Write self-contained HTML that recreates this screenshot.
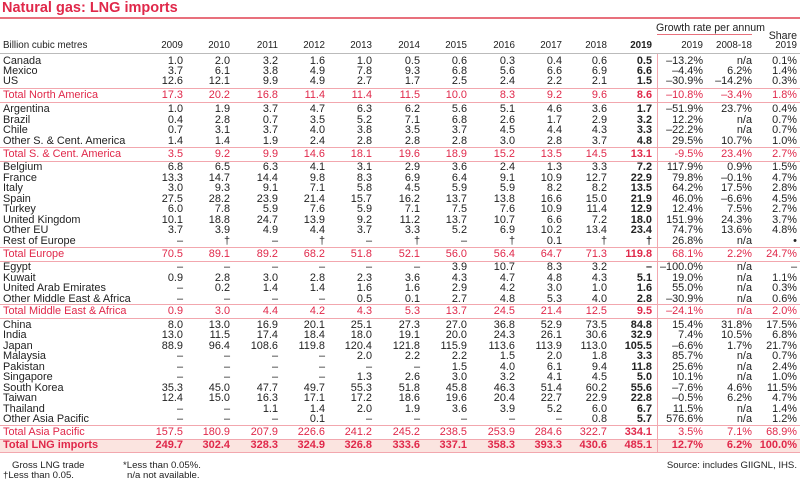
<!DOCTYPE html>
<html><head><meta charset="utf-8"><style>
body{margin:0;width:800px;height:481px;background:#fff;position:relative;overflow:hidden;font-family:"Liberation Sans",Arial,sans-serif;color:#222;}
.t{position:absolute;left:2px;top:0;font-size:14.5px;font-weight:bold;color:#e0284a;}
.r{position:absolute;left:0;height:12px;line-height:12px;font-size:10.9px;white-space:nowrap;display:flex;}
.r span{display:inline-block;text-align:right;}
.r span:nth-child(1){width:137px;margin-left:3px;text-align:left;}
.r span:nth-child(2){width:43px}.r span:nth-child(3){width:47px}.r span:nth-child(4){width:48px}
.r span:nth-child(5){width:47px}.r span:nth-child(6){width:47px}.r span:nth-child(7){width:48px}
.r span:nth-child(8){width:47px}.r span:nth-child(9){width:48px}.r span:nth-child(10){width:47px}
.r span:nth-child(11){width:45px}.r span:nth-child(12){width:45px;font-weight:bold}.r span:nth-child(13){width:51px}
.r span:nth-child(14){width:49px}.r span:nth-child(15){width:45px}
.tot{color:#e0284a;}
.big{font-weight:bold;}
.ln{position:absolute;left:0;width:800px;height:1px;background:#f2a7ae;}
.txt{position:absolute;font-size:10px;white-space:nowrap;}
</style></head><body>
<div class="t">Natural gas: LNG imports</div>
<div style="position:absolute;left:0;top:17px;width:800px;height:2px;background:#e8707c"></div>
<div class="txt" style="left:656px;top:22px;width:100px;text-align:center;font-size:10.6px">Growth rate per annum</div>
<div style="position:absolute;left:657px;top:34px;width:95px;height:1px;background:#e8707c"></div>
<div class="txt" style="right:3px;top:30px;font-size:10.6px">Share</div>
<div style="position:absolute;left:0;top:440px;width:800px;height:12px;background:#fbe4e0"></div>
<div style="position:absolute;left:657px;top:53px;width:1px;height:399px;background:#f2a7ae"></div>
<div style="position:absolute;left:0;top:53px;width:800px;height:1px;background:#bbb"></div>
<div class="ln" style="top:88px"></div><div class="ln" style="top:102px"></div>
<div class="ln" style="top:147px"></div><div class="ln" style="top:161px"></div>
<div class="ln" style="top:247px"></div><div class="ln" style="top:261px"></div>
<div class="ln" style="top:304px"></div><div class="ln" style="top:318px"></div>
<div class="ln" style="top:425px"></div><div class="ln" style="top:439px"></div>
<div class="ln" style="top:452px"></div>

<div class="r" style="top:40px;font-size:9.8px"><span>Billion cubic metres</span><span>2009</span><span>2010</span><span>2011</span><span>2012</span><span>2013</span><span>2014</span><span>2015</span><span>2016</span><span>2017</span><span>2018</span><span>2019</span><span>2019</span><span>2008-18</span><span>2019</span></div>

<div class="r" style="top:55px"><span>Canada</span><span>1.0</span><span>2.0</span><span>3.2</span><span>1.6</span><span>1.0</span><span>0.5</span><span>0.6</span><span>0.3</span><span>0.4</span><span>0.6</span><span>0.5</span><span>–13.2%</span><span>n/a</span><span>0.1%</span></div>
<div class="r" style="top:65px"><span>Mexico</span><span>3.7</span><span>6.1</span><span>3.8</span><span>4.9</span><span>7.8</span><span>9.3</span><span>6.8</span><span>5.6</span><span>6.6</span><span>6.9</span><span>6.6</span><span>–4.4%</span><span>6.2%</span><span>1.4%</span></div>
<div class="r" style="top:75px"><span>US</span><span>12.6</span><span>12.1</span><span>9.9</span><span>4.9</span><span>2.7</span><span>1.7</span><span>2.5</span><span>2.4</span><span>2.2</span><span>2.1</span><span>1.5</span><span>–30.9%</span><span>–14.2%</span><span>0.3%</span></div>
<div class="r tot" style="top:89px"><span>Total North America</span><span>17.3</span><span>20.2</span><span>16.8</span><span>11.4</span><span>11.4</span><span>11.5</span><span>10.0</span><span>8.3</span><span>9.2</span><span>9.6</span><span>8.6</span><span>–10.8%</span><span>–3.4%</span><span>1.8%</span></div>

<div class="r" style="top:103px"><span>Argentina</span><span>1.0</span><span>1.9</span><span>3.7</span><span>4.7</span><span>6.3</span><span>6.2</span><span>5.6</span><span>5.1</span><span>4.6</span><span>3.6</span><span>1.7</span><span>–51.9%</span><span>23.7%</span><span>0.4%</span></div>
<div class="r" style="top:114px"><span>Brazil</span><span>0.4</span><span>2.8</span><span>0.7</span><span>3.5</span><span>5.2</span><span>7.1</span><span>6.8</span><span>2.6</span><span>1.7</span><span>2.9</span><span>3.2</span><span>12.2%</span><span>n/a</span><span>0.7%</span></div>
<div class="r" style="top:124px"><span>Chile</span><span>0.7</span><span>3.1</span><span>3.7</span><span>4.0</span><span>3.8</span><span>3.5</span><span>3.7</span><span>4.5</span><span>4.4</span><span>4.3</span><span>3.3</span><span>–22.2%</span><span>n/a</span><span>0.7%</span></div>
<div class="r" style="top:135px"><span>Other S. &amp; Cent. America</span><span>1.4</span><span>1.4</span><span>1.9</span><span>2.4</span><span>2.8</span><span>2.8</span><span>2.8</span><span>3.0</span><span>2.8</span><span>3.7</span><span>4.8</span><span>29.5%</span><span>10.7%</span><span>1.0%</span></div>
<div class="r tot" style="top:148px"><span>Total S. &amp; Cent. America</span><span>3.5</span><span>9.2</span><span>9.9</span><span>14.6</span><span>18.1</span><span>19.6</span><span>18.9</span><span>15.2</span><span>13.5</span><span>14.5</span><span>13.1</span><span>-9.5%</span><span>23.4%</span><span>2.7%</span></div>

<div class="r" style="top:161px"><span>Belgium</span><span>6.8</span><span>6.5</span><span>6.3</span><span>4.1</span><span>3.1</span><span>2.9</span><span>3.6</span><span>2.4</span><span>1.3</span><span>3.3</span><span>7.2</span><span>117.9%</span><span>0.9%</span><span>1.5%</span></div>
<div class="r" style="top:172px"><span>France</span><span>13.3</span><span>14.7</span><span>14.4</span><span>9.8</span><span>8.3</span><span>6.9</span><span>6.4</span><span>9.1</span><span>10.9</span><span>12.7</span><span>22.9</span><span>79.8%</span><span>–0.1%</span><span>4.7%</span></div>
<div class="r" style="top:182px"><span>Italy</span><span>3.0</span><span>9.3</span><span>9.1</span><span>7.1</span><span>5.8</span><span>4.5</span><span>5.9</span><span>5.9</span><span>8.2</span><span>8.2</span><span>13.5</span><span>64.2%</span><span>17.5%</span><span>2.8%</span></div>
<div class="r" style="top:193px"><span>Spain</span><span>27.5</span><span>28.2</span><span>23.9</span><span>21.4</span><span>15.7</span><span>16.2</span><span>13.7</span><span>13.8</span><span>16.6</span><span>15.0</span><span>21.9</span><span>46.0%</span><span>–6.6%</span><span>4.5%</span></div>
<div class="r" style="top:203px"><span>Turkey</span><span>6.0</span><span>7.8</span><span>5.9</span><span>7.6</span><span>5.9</span><span>7.1</span><span>7.5</span><span>7.6</span><span>10.9</span><span>11.4</span><span>12.9</span><span>12.4%</span><span>7.5%</span><span>2.7%</span></div>
<div class="r" style="top:214px"><span>United Kingdom</span><span>10.1</span><span>18.8</span><span>24.7</span><span>13.9</span><span>9.2</span><span>11.2</span><span>13.7</span><span>10.7</span><span>6.6</span><span>7.2</span><span>18.0</span><span>151.9%</span><span>24.3%</span><span>3.7%</span></div>
<div class="r" style="top:224px"><span>Other EU</span><span>3.7</span><span>3.9</span><span>4.9</span><span>4.4</span><span>3.7</span><span>3.3</span><span>5.2</span><span>6.9</span><span>10.2</span><span>13.4</span><span>23.4</span><span>74.7%</span><span>13.6%</span><span>4.8%</span></div>
<div class="r" style="top:235px"><span>Rest of Europe</span><span>–</span><span>†</span><span>–</span><span>†</span><span>–</span><span>†</span><span>–</span><span>†</span><span>0.1</span><span>†</span><span>†</span><span>26.8%</span><span>n/a</span><span>•</span></div>
<div class="r tot" style="top:248px"><span>Total Europe</span><span>70.5</span><span>89.1</span><span>89.2</span><span>68.2</span><span>51.8</span><span>52.1</span><span>56.0</span><span>56.4</span><span>64.7</span><span>71.3</span><span>119.8</span><span>68.1%</span><span>2.2%</span><span>24.7%</span></div>

<div class="r" style="top:261px"><span>Egypt</span><span>–</span><span>–</span><span>–</span><span>–</span><span>–</span><span>–</span><span>3.9</span><span>10.7</span><span>8.3</span><span>3.2</span><span>–</span><span>–100.0%</span><span>n/a</span><span>–</span></div>
<div class="r" style="top:272px"><span>Kuwait</span><span>0.9</span><span>2.8</span><span>3.0</span><span>2.8</span><span>2.3</span><span>3.6</span><span>4.3</span><span>4.7</span><span>4.8</span><span>4.3</span><span>5.1</span><span>19.0%</span><span>n/a</span><span>1.1%</span></div>
<div class="r" style="top:282px"><span>United Arab Emirates</span><span>–</span><span>0.2</span><span>1.4</span><span>1.4</span><span>1.6</span><span>1.6</span><span>2.9</span><span>4.2</span><span>3.0</span><span>1.0</span><span>1.6</span><span>55.0%</span><span>n/a</span><span>0.3%</span></div>
<div class="r" style="top:293px"><span>Other Middle East &amp; Africa</span><span>–</span><span>–</span><span>–</span><span>–</span><span>0.5</span><span>0.1</span><span>2.7</span><span>4.8</span><span>5.3</span><span>4.0</span><span>2.8</span><span>–30.9%</span><span>n/a</span><span>0.6%</span></div>
<div class="r tot" style="top:305px"><span>Total Middle East &amp; Africa</span><span>0.9</span><span>3.0</span><span>4.4</span><span>4.2</span><span>4.3</span><span>5.3</span><span>13.7</span><span>24.5</span><span>21.4</span><span>12.5</span><span>9.5</span><span>–24.1%</span><span>n/a</span><span>2.0%</span></div>

<div class="r" style="top:319px"><span>China</span><span>8.0</span><span>13.0</span><span>16.9</span><span>20.1</span><span>25.1</span><span>27.3</span><span>27.0</span><span>36.8</span><span>52.9</span><span>73.5</span><span>84.8</span><span>15.4%</span><span>31.8%</span><span>17.5%</span></div>
<div class="r" style="top:329px"><span>India</span><span>13.0</span><span>11.5</span><span>17.4</span><span>18.4</span><span>18.0</span><span>19.1</span><span>20.0</span><span>24.3</span><span>26.1</span><span>30.6</span><span>32.9</span><span>7.4%</span><span>10.5%</span><span>6.8%</span></div>
<div class="r" style="top:340px"><span>Japan</span><span>88.9</span><span>96.4</span><span>108.6</span><span>119.8</span><span>120.4</span><span>121.8</span><span>115.9</span><span>113.6</span><span>113.9</span><span>113.0</span><span>105.5</span><span>–6.6%</span><span>1.7%</span><span>21.7%</span></div>
<div class="r" style="top:350px"><span>Malaysia</span><span>–</span><span>–</span><span>–</span><span>–</span><span>2.0</span><span>2.2</span><span>2.2</span><span>1.5</span><span>2.0</span><span>1.8</span><span>3.3</span><span>85.7%</span><span>n/a</span><span>0.7%</span></div>
<div class="r" style="top:361px"><span>Pakistan</span><span>–</span><span>–</span><span>–</span><span>–</span><span>–</span><span>–</span><span>1.5</span><span>4.0</span><span>6.1</span><span>9.4</span><span>11.8</span><span>25.6%</span><span>n/a</span><span>2.4%</span></div>
<div class="r" style="top:371px"><span>Singapore</span><span>–</span><span>–</span><span>–</span><span>–</span><span>1.3</span><span>2.6</span><span>3.0</span><span>3.2</span><span>4.1</span><span>4.5</span><span>5.0</span><span>10.1%</span><span>n/a</span><span>1.0%</span></div>
<div class="r" style="top:382px"><span>South Korea</span><span>35.3</span><span>45.0</span><span>47.7</span><span>49.7</span><span>55.3</span><span>51.8</span><span>45.8</span><span>46.3</span><span>51.4</span><span>60.2</span><span>55.6</span><span>–7.6%</span><span>4.6%</span><span>11.5%</span></div>
<div class="r" style="top:392px"><span>Taiwan</span><span>12.4</span><span>15.0</span><span>16.3</span><span>17.1</span><span>17.2</span><span>18.6</span><span>19.6</span><span>20.4</span><span>22.7</span><span>22.9</span><span>22.8</span><span>–0.5%</span><span>6.2%</span><span>4.7%</span></div>
<div class="r" style="top:403px"><span>Thailand</span><span>–</span><span>–</span><span>1.1</span><span>1.4</span><span>2.0</span><span>1.9</span><span>3.6</span><span>3.9</span><span>5.2</span><span>6.0</span><span>6.7</span><span>11.5%</span><span>n/a</span><span>1.4%</span></div>
<div class="r" style="top:413px"><span>Other Asia Pacific</span><span>–</span><span>–</span><span>–</span><span>0.1</span><span>–</span><span>–</span><span>–</span><span>–</span><span>–</span><span>0.8</span><span>5.7</span><span>576.6%</span><span>n/a</span><span>1.2%</span></div>
<div class="r tot" style="top:426px"><span>Total Asia Pacific</span><span>157.5</span><span>180.9</span><span>207.9</span><span>226.6</span><span>241.2</span><span>245.2</span><span>238.5</span><span>253.9</span><span>284.6</span><span>322.7</span><span>334.1</span><span>3.5%</span><span>7.1%</span><span>68.9%</span></div>
<div class="r tot big" style="top:439px;font-size:11px"><span>Total LNG imports</span><span>249.7</span><span>302.4</span><span>328.3</span><span>324.9</span><span>326.8</span><span>333.6</span><span>337.1</span><span>358.3</span><span>393.3</span><span>430.6</span><span>485.1</span><span>12.7%</span><span>6.2%</span><span>100.0%</span></div>

<div class="txt" style="left:12px;top:460px;font-size:9.6px">Gross LNG trade</div>
<div class="txt" style="left:3px;top:470px;font-size:9.6px">†Less than 0.05.</div>
<div class="txt" style="left:123px;top:460px;font-size:9.6px">*Less than 0.05%.</div>
<div class="txt" style="left:127px;top:470px;font-size:9.6px">n/a not available.</div>
<div class="txt" style="right:3px;top:460px;font-size:9.6px">Source: includes GIIGNL, IHS.</div>
</body></html>
